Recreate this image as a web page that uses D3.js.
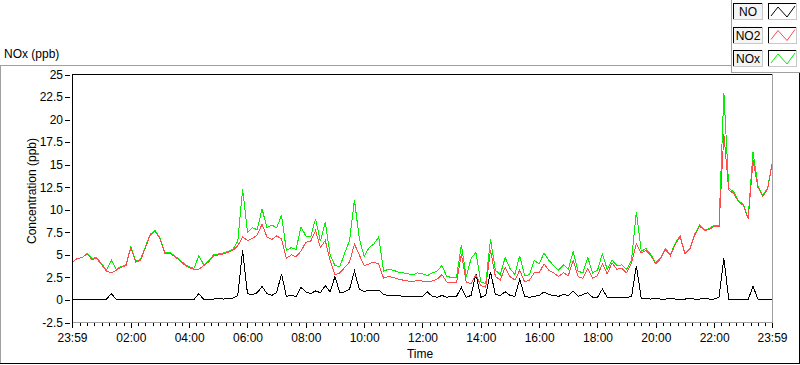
<!DOCTYPE html>
<html>
<head>
<meta charset="utf-8">
<script src="https://cdn.jsdelivr.net/npm/d3@7"></script>
<style>
body { margin: 0; background: #fff; }
svg text { font-family: "Liberation Sans", Arial, sans-serif; font-size: 12px; fill: #000; }
</style>
</head>
<body>
<svg id="chart" width="800" height="365"></svg>
<script>
// sample times, minutes after midnight
var minutes = d3.range(0, 1440, 10).concat([1439]);

// NO (ppb)
var noValues = [
	0.05,0,0.05,0,0.05,0,0.05,0.1,0.7,0.05,0,0.05,
	0.05,0,0.1,0.05,0.1,0,0.05,0,0.05,0,0.05,0,
	0.05,0.05,0.7,0.05,0.05,0.1,0.15,0.1,0.15,0.2,0.5,5.5,
	0.7,0.6,0.8,1.5,0.7,0.5,0.8,2.9,0.4,0.5,0.4,1.4,
	0.9,0.7,1.0,0.8,1.6,0.9,2.6,0.8,0.9,1.2,3.2,1.2,
	0.9,1.1,1.0,1.1,0.6,0.5,0.5,0.5,0.4,0.4,0.4,0.35,
	0.4,0.9,0.4,0.3,0.5,0.3,0.4,0.4,1.4,0.3,0.5,2.9,
	0.3,0.5,3.1,0.6,0.5,0.9,0.5,0.4,2.3,0.4,0.3,0.4,
	0.5,0.9,0.6,0.5,0.4,0.6,0.5,1.0,0.4,0.6,0.8,0.3,
	0.3,1.2,0.3,0.25,0.3,0.25,0.3,0.35,3.8,0.2,0.15,0.1,
	0.15,0.1,0.1,0.15,0.1,0.05,0.1,0.15,0.1,0.1,0.15,0.1,
	0.1,0.3,4.6,0.1,0.05,0.05,0.05,0.05,1.5,0.1,0,0,
	0
];

// NO2 (ppb)
var no2Values = [
	4.2,4.6,4.7,5.1,4.5,4.6,3.9,3.2,3.0,3.3,3.6,3.8,
	5.8,4.2,4.4,5.8,7.2,7.6,6.8,5.2,5.2,4.8,4.4,3.9,
	3.6,3.4,3.4,3.8,4.2,4.9,5.0,5.1,5.3,5.5,6.0,7.0,
	6.6,6.8,7.2,8.4,7.0,6.7,7.1,6.8,4.6,5.0,4.8,5.4,
	6.4,6.5,7.7,5.8,6.6,4.4,2.8,3.0,3.6,4.2,6.2,5.0,
	3.8,4.0,4.2,4.0,2.4,2.6,2.5,2.3,2.2,2.1,2.0,2.2,
	2.1,2.0,2.1,2.3,2.8,2.0,1.9,1.9,5.1,2.0,1.8,2.8,
	1.6,1.4,5.5,2.6,2.2,3.6,2.6,2.2,3.3,2.0,2.2,3.0,
	3.0,4.0,3.3,3.0,2.6,3.0,2.7,4.4,2.6,2.4,3.5,2.4,
	2.7,4.0,2.9,4.1,3.4,3.5,3.0,4.1,6.2,5.2,5.5,4.9,
	4.0,4.6,5.6,4.9,6.2,7.0,5.1,5.6,7.2,8.2,7.7,7.8,
	8.2,8.1,18.4,12.2,11.8,10.9,10.5,9.0,15.5,12.5,11.5,12.3,
	15.0
];

// NOx (ppb)
var noxValues = [
	4.2,4.6,4.7,5.2,4.6,4.7,4.0,3.3,4.4,3.4,3.7,3.9,
	5.9,4.3,4.5,5.9,7.3,7.7,6.9,5.3,5.3,4.9,4.5,4.0,
	3.7,3.5,4.9,3.9,4.3,5.0,5.1,5.2,5.4,5.6,6.5,12.3,
	7.5,8.0,7.8,10.1,8.0,8.3,8.0,9.4,5.5,5.8,5.6,8.1,
	7.1,7.0,9.0,6.5,8.6,5.0,3.8,3.7,5.2,6.6,11.1,6.8,
	4.8,5.8,6.2,7.0,3.2,3.4,3.3,3.1,3.0,2.9,2.8,3.0,
	2.9,2.7,3.0,3.2,3.8,2.6,2.5,2.5,6.1,2.6,4.6,5.3,
	2.0,1.8,6.7,3.3,2.8,4.7,3.5,2.8,4.9,2.7,2.8,4.4,
	4.0,5.2,4.4,3.8,3.3,3.9,3.4,5.4,3.2,3.0,4.7,3.0,
	3.3,5.1,3.4,4.4,3.8,3.9,3.4,4.4,9.8,5.4,5.7,5.0,
	4.1,4.7,5.7,5.0,6.3,7.1,5.2,5.7,7.3,8.3,7.8,7.9,
	8.3,8.2,23.0,12.4,12.0,11.0,10.6,9.1,16.4,12.7,11.6,12.4,
	15.1
];

var seriesNames = ["NO", "NO2", "NOx"];
var seriesColors = ["#000000", "#ff4848", "#00f000"];

var yTicks = [-2.5, 0, 2.5, 5, 7.5, 10, 12.5, 15, 17.5, 20, 22.5, 25];
var xMajorTicks = [-1, 120, 240, 360, 480, 600, 720, 840, 960, 1080, 1200, 1320, 1439];
var xTickLabels = ["23:59", "02:00", "04:00", "06:00", "08:00", "10:00", "12:00",
	"14:00", "16:00", "18:00", "20:00", "22:00", "23:59"];
var xMinorTicks = d3.range(15, 1440, 15);

var svg = d3.select("#chart");
var PLOT = { left: 72, right: 772, top: 74.5, bottom: 322.5 };

var xScale = d3.scaleLinear().domain([-1, 1439]).range([PLOT.left, PLOT.right]);
var yScale = d3.scaleLinear().domain([-2.5, 25]).range([PLOT.bottom, PLOT.top]);

function hline(x1, x2, y, color) {
	svg.append("line").attr("x1", x1).attr("x2", x2).attr("y1", y).attr("y2", y)
		.attr("stroke", color).attr("stroke-width", 1).attr("shape-rendering", "crispEdges");
}
function vline(x, y1, y2, color) {
	svg.append("line").attr("x1", x).attr("x2", x).attr("y1", y1).attr("y2", y2)
		.attr("stroke", color).attr("stroke-width", 1).attr("shape-rendering", "crispEdges");
}

// outer panel frame
hline(0, 732, 65.5, "#a0a0a0");
vline(0.5, 65, 364, "#a0a0a0");
hline(0, 800, 363.5, "#000");
vline(799.5, 72, 364, "#000");
// legend panel
vline(731.5, 0, 72, "#a0a0a0");
hline(731, 800, 72.5, "#a0a0a0");

svg.append("text").attr("x", 4).attr("y", 58).text("NOx (ppb)");

// data
var lineGen = function(values) {
	return d3.line()
		.x(function(d, i) { return xScale(minutes[i]); })
		.y(function(d) { return yScale(d); })(values);
};
var clip = svg.append("clipPath").attr("id", "plotclip").append("rect")
	.attr("x", PLOT.left + 1).attr("y", PLOT.top).attr("width", PLOT.right - PLOT.left - 1)
	.attr("height", PLOT.bottom - PLOT.top);
var plotG = svg.append("g").attr("clip-path", "url(#plotclip)");
[[noValues, 0], [noxValues, 2], [no2Values, 1]].forEach(function(s) {
	plotG.append("path").attr("d", lineGen(s[0]))
		.attr("fill", "none").attr("stroke", seriesColors[s[1]])
		.attr("stroke-width", 1).attr("shape-rendering", "crispEdges");
});

// plot frame (sunken look)
hline(PLOT.left, PLOT.right + 1, 74.5, "#000");
vline(72.5, 74, 323, "#000");
vline(772.5, 74, 323, "#a0a0a0");
hline(73, 773, 322.5, "#a0a0a0");

// y axis
var yAxis = d3.axisLeft(yScale).tickValues(yTicks).tickSize(5).tickPadding(2)
	.tickFormat(function(d) { return d; });
var yg = svg.append("g").attr("transform", "translate(70,0)").call(yAxis);
yg.select(".domain").remove();
yg.selectAll("line").attr("stroke", "#000").attr("shape-rendering", "crispEdges");
yg.selectAll("text").attr("font-family", null).attr("font-size", null).attr("fill", null);

// x axis: minor then major
var xMinor = d3.axisBottom(xScale).tickValues(xMinorTicks).tickSize(3).tickFormat("");
var xm = svg.append("g").attr("transform", "translate(0,323)").call(xMinor);
xm.select(".domain").remove();
xm.selectAll("line").attr("stroke", "#000").attr("shape-rendering", "crispEdges");

var xAxis = d3.axisBottom(xScale).tickValues(xMajorTicks).tickSize(5).tickPadding(5)
	.tickFormat(function(d, i) { return xTickLabels[i]; });
var xg = svg.append("g").attr("transform", "translate(0,323)").call(xAxis);
xg.select(".domain").remove();
xg.selectAll("line").attr("stroke", "#000").attr("shape-rendering", "crispEdges");
xg.selectAll("text").attr("font-family", null).attr("font-size", null).attr("fill", null);

// axis titles
svg.append("text").attr("text-anchor", "middle")
	.attr("transform", "translate(36,191) rotate(-90)").text("Concentration (ppb)");
svg.append("text").attr("text-anchor", "middle").attr("x", 420).attr("y", 358).text("Time");

// legend
var legendRowY = [3, 26.5, 50];
var zig = d3.line();
seriesNames.forEach(function(name, i) {
	var y0 = legendRowY[i];
	var box = svg.append("g");
	box.append("rect").attr("x", 733).attr("y", y0).attr("width", 30).attr("height", 17).attr("fill", "#f4f4f4");
	box.append("path").attr("d", "M733.5," + (y0 + 17) + "V" + (y0 + 0.5) + "H763")
		.attr("stroke", "#000").attr("fill", "none").attr("shape-rendering", "crispEdges");
	box.append("path").attr("d", "M733," + (y0 + 16.5) + "H762.5V" + y0)
		.attr("stroke", "#c8c8c8").attr("fill", "none").attr("shape-rendering", "crispEdges");
	box.append("text").attr("x", 748).attr("y", y0 + 13).attr("text-anchor", "middle").text(name);

	box.append("rect").attr("x", 768).attr("y", y0).attr("width", 29).attr("height", 17).attr("fill", "#fff");
	box.append("path").attr("d", "M768.5," + (y0 + 17) + "V" + (y0 + 0.5) + "H797")
		.attr("stroke", "#000").attr("fill", "none").attr("shape-rendering", "crispEdges");
	box.append("path").attr("d", "M768," + (y0 + 16.5) + "H796.5V" + y0)
		.attr("stroke", "#c8c8c8").attr("fill", "none").attr("shape-rendering", "crispEdges");
	box.append("path")
		.attr("d", zig([[771, y0 + 13], [778, y0 + 4], [787, y0 + 14], [795, y0 + 3]]))
		.attr("stroke", seriesColors[i]).attr("fill", "none").attr("stroke-width", 1);
});
</script>
</body>
</html>
